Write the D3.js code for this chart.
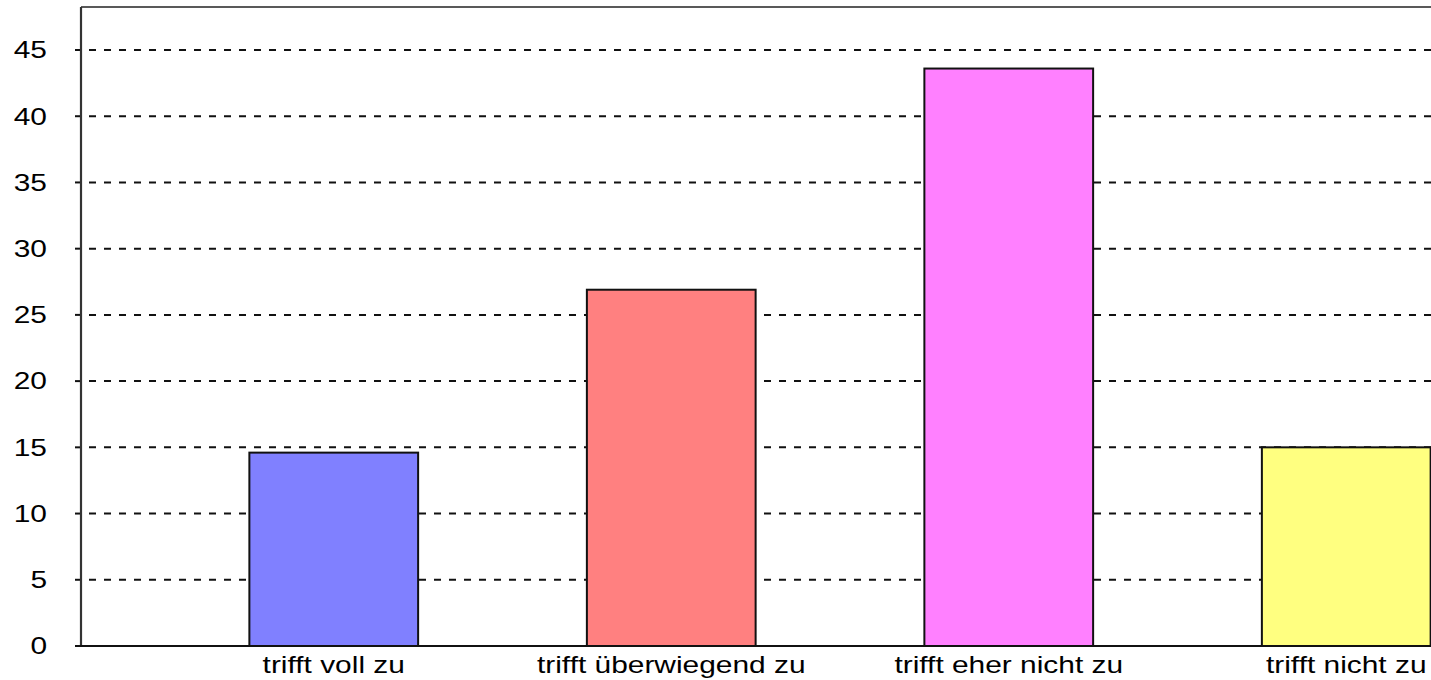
<!DOCTYPE html>
<html><head><meta charset="utf-8">
<script src="https://cdn.jsdelivr.net/npm/d3@7"></script>
<style>
html,body{margin:0;padding:0;background:#fff;}
svg{display:block;}
text{font-family:"Liberation Sans",Arial,sans-serif;fill:#000;}
</style></head>
<body>
<svg id="chart" width="1431" height="680"></svg>
<script>
const categories = ["trifft voll zu", "trifft überwiegend zu", "trifft eher nicht zu", "trifft nicht zu"];
const values = [14.6, 26.9, 43.6, 15.0];
const colors = ["#8080FF", "#FF8080", "#FF80FF", "#FFFF80"];
const yTicks = [0, 5, 10, 15, 20, 25, 30, 35, 40, 45];

(function () {
const svg = d3.select("#chart");
const W = 1431;
const plotLeft = 81, plotBottom = 646, plotTop = 7;
const stretch = 1.3;

const y = d3.scaleLinear().domain([0, 45]).range([plotBottom, 50]);
const x = d3.scaleBand().domain(categories).range([165, 1515]).paddingInner(0.5).paddingOuter(0.25);

// gridlines
svg.append("g").selectAll("line").data(yTicks.filter(d => d > 0)).join("line")
  .attr("x1", plotLeft).attr("x2", W)
  .attr("y1", d => y(d)).attr("y2", d => y(d))
  .attr("stroke", "#111").attr("stroke-width", 2)
  .attr("stroke-dasharray", "7,8").attr("stroke-dashoffset", 7);

// tick marks
svg.append("g").selectAll("line").data(yTicks).join("line")
  .attr("x1", plotLeft - 6).attr("x2", plotLeft)
  .attr("y1", d => y(d)).attr("y2", d => y(d))
  .attr("stroke", "#111").attr("stroke-width", 2);

// tick labels
svg.append("g").selectAll("text").data(yTicks).join("text")
  .attr("transform", d => `translate(47,${y(d)}) scale(${stretch},1)`)
  .attr("text-anchor", "end").attr("dy", "0.36em")
  .attr("font-size", 23)
  .text(d => d);

// bars
svg.append("g").selectAll("rect").data(categories).join("rect")
  .attr("x", d => x(d)).attr("width", x.bandwidth())
  .attr("y", (d, i) => y(values[i])).attr("height", (d, i) => y(0) - y(values[i]))
  .attr("fill", (d, i) => colors[i])
  .attr("stroke", "#111").attr("stroke-width", 2);

// frame
svg.append("line").attr("x1", plotLeft).attr("x2", W).attr("y1", plotTop).attr("y2", plotTop)
  .attr("stroke", "#222").attr("stroke-width", 1.6);
svg.append("line").attr("x1", plotLeft).attr("x2", plotLeft).attr("y1", plotTop).attr("y2", plotBottom)
  .attr("stroke", "#333").attr("stroke-width", 2.2);
svg.append("line").attr("x1", plotLeft - 1).attr("x2", W).attr("y1", plotBottom).attr("y2", plotBottom)
  .attr("stroke", "#111").attr("stroke-width", 2.2);

// category labels
svg.append("g").selectAll("text").data(categories).join("text")
  .attr("transform", d => `translate(${x(d) + x.bandwidth() / 2},673) scale(${stretch},1)`)
  .attr("text-anchor", "middle")
  .attr("font-size", 23)
  .text(d => d);
})();
</script>
</body></html>
